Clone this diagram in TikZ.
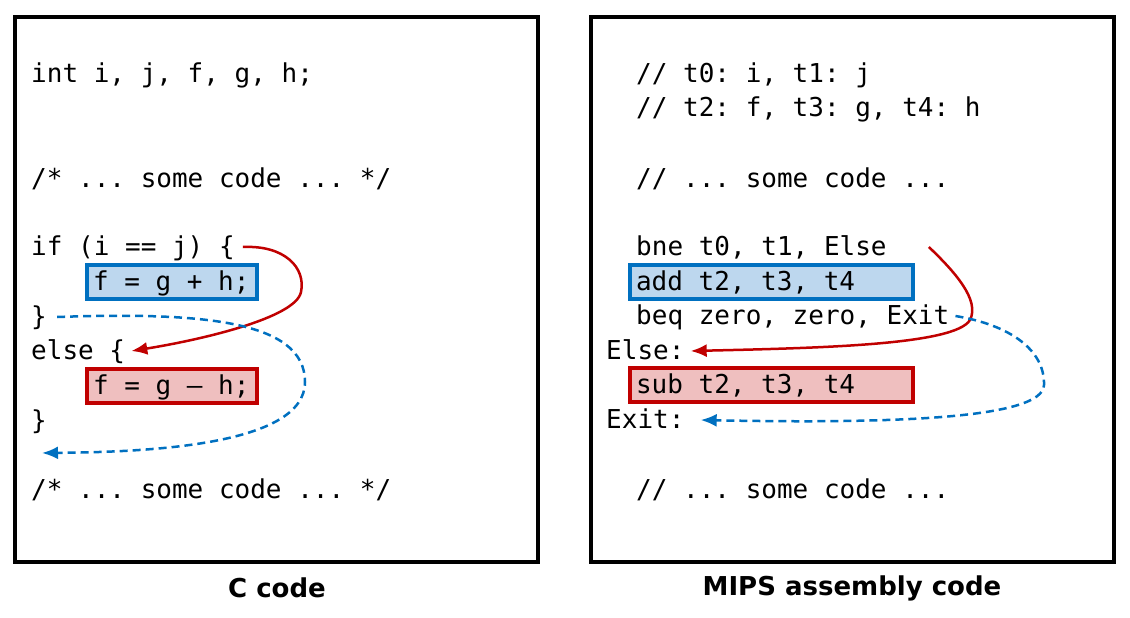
\documentclass[tikz,border=0pt]{standalone}
\usepackage{fontspec}
\setmonofont{DejaVu Sans Mono}
\setsansfont{DejaVu Sans}
\usetikzlibrary{arrows.meta, positioning}
\definecolor{Jump_Blue}{HTML}{0070C0}
\definecolor{Jump_Red}{HTML}{C00000}
\definecolor{Then_Fill}{HTML}{BDD7EE}
\definecolor{Else_Fill}{HTML}{EFBFBF}

\begin{document}
\begin{tikzpicture}[x=1pt, y=-1pt,
    codeline/.style={anchor=west, inner xsep=6pt, inner ysep=5pt, text height=20pt, text depth=4pt,
        font=\ttfamily\fontsize{26}{30}\selectfont},
    thenbox/.style={codeline, draw=Jump_Blue, fill=Then_Fill, line width=4pt},
    elsebox/.style={codeline, draw=Jump_Red, fill=Else_Fill, line width=4pt},
    caption/.style={font=\sffamily\bfseries\fontsize{26}{30}\selectfont},
    taken/.style={Jump_Red, line width=2.5pt, -{Latex[length=16pt, width=13pt]}},
    skip/.style={Jump_Blue, line width=2.5pt, dash pattern=on 8pt off 5pt, -{Latex[length=16pt, width=13pt]}}]
    \useasboundingbox (0,0) rectangle (1130,618);

    % frames
    \draw[line width=4pt] (15,17) rectangle (538,562);
    \draw[line width=4pt] (591,17) rectangle (1114,562);

    % C side
    \node[codeline] (decl) at (25,74) {int i, j, f, g, h;};
    \node[codeline] (ccodeA) at (25,179) {/* ... some code ... */};
    \node[codeline] (ifl) at (25,247) {if (i == j) \{};
    \node[thenbox] (cthen) at (85,282) {\makebox[158pt][l]{f = g + h;}};
    \node[codeline] (cclose) at (25,317) {\}};
    \node[codeline] (celse) at (25,351) {else \{};
    \node[elsebox] (celsebody) at (85,386) {\makebox[158pt][l]{f = g – h;}};
    \node[codeline] (cend) at (25,421) {\}};
    \node[codeline] (ccodeB) at (25,490) {/* ... some code ... */};
    \coordinate (afterif) at (42,453);

    % MIPS side
    \node[codeline] (regA) at (630,74) {// t0: i, t1: j};
    \node[codeline] (regB) at (630,108) {// t2: f, t3: g, t4: h};
    \node[codeline] (mcodeA) at (630,179) {// ... some code ...};
    \node[codeline] (bne) at (630,247) {bne t0, t1, Else};
    \node[thenbox] (madd) at (628,282) {\makebox[271pt][l]{add t2, t3, t4}};
    \node[codeline] (beq) at (630,316) {beq zero, zero, Exit};
    \node[codeline] (elselbl) at (600,351) {Else:};
    \node[elsebox] (msub) at (628,385) {\makebox[271pt][l]{sub t2, t3, t4}};
    \node[codeline] (exitlbl) at (600,420) {Exit:};
    \node[codeline] (mcodeB) at (630,490) {// ... some code ...};

    % jumps
    \draw[taken] ([xshift=2pt]ifl.east) .. controls (285,245) and (306,268) .. (301,292)
        .. controls (296,318) and (200,340) .. (celse.east);
    \draw[skip] ([xshift=4pt]cclose.east) .. controls (200,312) and (305,320) .. (305,382)
        .. controls (305,445) and (150,452) .. (afterif);
    \draw[taken] ([xshift=36pt]bne.east) .. controls (955,272) and (980,300) .. (970,320)
        .. controls (955,345) and (820,348) .. (elselbl.east);
    \draw[skip] (beq.east) .. controls (1010,325) and (1045,350) .. (1044,385)
        .. controls (1043,418) and (900,424) .. ([xshift=10pt]exitlbl.east);

    % captions
    \node[caption] (ccap) at (277,588) {C code};
    \node[caption] (mipscap) at (852,588) {MIPS assembly code};
\end{tikzpicture}
\end{document}
